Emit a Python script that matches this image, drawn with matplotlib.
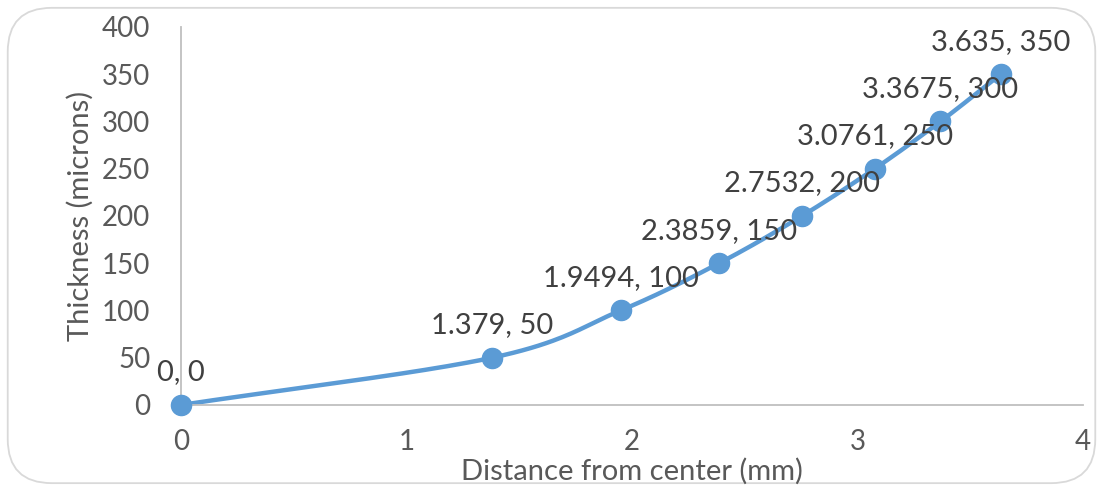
import numpy as np
import matplotlib.pyplot as plt
from matplotlib.patches import FancyBboxPatch

# distance from center (mm) vs coating thickness (microns)
distance = [0, 1.379, 1.9494, 2.3859, 2.7532, 3.0761, 3.3675, 3.635]
thickness = [0, 50, 100, 150, 200, 250, 300, 350]
point_labels = ["0, 0", "1.379, 50", "1.9494, 100", "2.3859, 150",
                "2.7532, 200", "3.0761, 250", "3.3675, 300", "3.635, 350"]
x_ticks = [0, 1, 2, 3, 4]
y_ticks = [0, 50, 100, 150, 200, 250, 300, 350, 400]

blue = "#5B9BD5"
grey_txt = "#595959"
plt.rcParams['font.family'] = ['Lato', 'DejaVu Sans']


def catmull_rom(xs, ys, n=40):
    # smoothed line through the points, like a spreadsheet "smooth line"
    p = np.column_stack([xs, ys]).astype(float)
    p = np.vstack([p[0] - (p[1] - p[0]), p, p[-1] + (p[-1] - p[-2])])
    out = []
    for i in range(1, len(p) - 2):
        p0, p1, p2, p3 = p[i - 1], p[i], p[i + 1], p[i + 2]
        t = np.linspace(0, 1, n)[:, None]
        seg = 0.5 * ((2 * p1) + (-p0 + p2) * t +
                     (2 * p0 - 5 * p1 + 4 * p2 - p3) * t ** 2 +
                     (-p0 + 3 * p1 - 3 * p2 + p3) * t ** 3)
        out.append(seg)
    c = np.vstack(out)
    return c[:, 0], c[:, 1]


fig = plt.figure(figsize=(11.03, 4.9), dpi=100)
ax = fig.add_axes([0.164, 0.1735, 0.818, 0.7715])

sx, sy = catmull_rom(distance, thickness)
ax.plot(sx, sy, color=blue, lw=3.2, solid_capstyle='round', zorder=2,
        clip_on=False)
ax.plot(distance, thickness, 'o', color=blue, ms=14.5, zorder=3, clip_on=False)

for x, y, s in zip(distance, thickness, point_labels):
    ax.annotate(s, (x, y), xytext=(0, 14), textcoords='offset points',
                ha='center', va='bottom', fontsize=21, color="#404040", zorder=4)

ax.set_xlim(0, 4)
ax.set_ylim(0, 400)
ax.set_xticks(x_ticks)
ax.set_yticks(y_ticks)
ax.tick_params(length=0, labelsize=20, colors=grey_txt)
ax.tick_params(axis='x', pad=17)
ax.tick_params(axis='y', pad=22)

for side in ['top', 'right']:
    ax.spines[side].set_visible(False)
for side in ['left', 'bottom']:
    ax.spines[side].set_color("#bfbfbf")
    ax.spines[side].set_linewidth(1.3)
ax.patch.set_alpha(0)

fig.text(0.573, 0.038, "Distance from center (mm)", ha='center', va='center',
         fontsize=21, color=grey_txt)
fig.text(0.073, 0.56, "Thickness (microns)", ha='center', va='center',
         rotation=90, fontsize=21, color=grey_txt)

# rounded chart border
border = FancyBboxPatch((0.007, 0.014), 0.986, 0.97,
                        boxstyle="round,pad=0,rounding_size=0.04",
                        transform=fig.transFigure, fill=False,
                        edgecolor="#d9d9d9", lw=1.3, mutation_aspect=2.25)
fig.patches.append(border)

fig.savefig("out.png", dpi=100)
